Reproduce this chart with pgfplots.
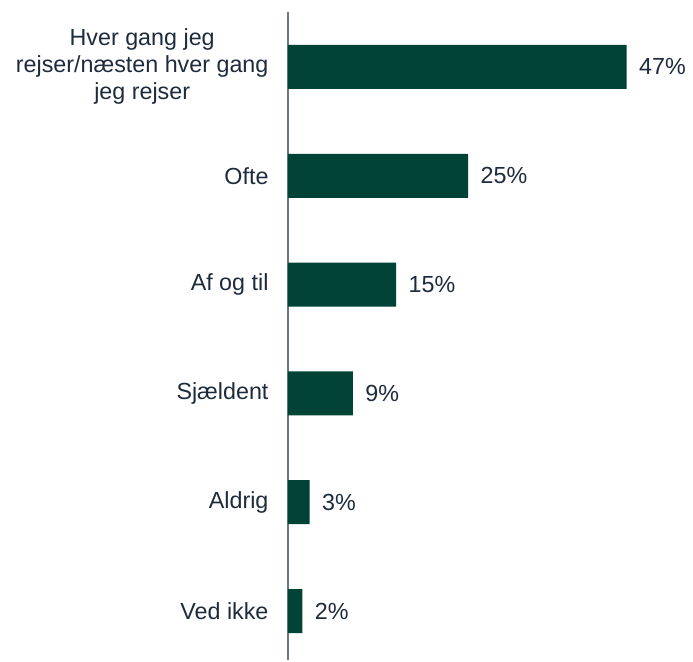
\documentclass[border=0pt]{standalone}
\usepackage{fontspec}
\setmainfont{Liberation Sans}
\usepackage{pgfplots}
\pgfplotsset{compat=1.18}
\definecolor{barcol}{HTML}{004236}
\definecolor{txtcol}{HTML}{1E2B3C}
\definecolor{axcol}{HTML}{6B7785}
\begin{document}
\begin{tikzpicture}
\begin{axis}[
    xbar,
    scale only axis,
    width=405pt, height=648pt,
    xmin=0, xmax=56.2,
    ymin=-0.505, ymax=5.45,
    y dir=reverse,
    bar width=44pt,
    axis x line=none,
    axis y line*=left,
    y axis line style={draw=axcol, line width=1.3pt, -},
    ytick={0,...,5},
    yticklabels={{Hver gang jeg\\rejser/næsten hver gang\\jeg rejser},Ofte,Af og til,Sjældent,Aldrig,Ved ikke},
    major tick length=0pt,
    yticklabel style={align=center, font=\fontsize{23.3}{27}\selectfont, text=txtcol, xshift=-16pt},
    /pgf/number format/assume math mode=true,
    nodes near coords={\pgfmathprintnumber{\pgfplotspointmeta}\%},
    nodes near coords style={font=\fontsize{23.3}{27}\selectfont, text=txtcol, anchor=west, xshift=9pt},
    clip=false,
]
\addplot[fill=barcol, draw=none] coordinates {(47,0) (25,1) (15,2) (9,3) (3,4) (2,5)};
\end{axis}
\pgfresetboundingbox
\path (current axis.south west) ++(-288pt,-1pt) rectangle ([yshift=12pt]current axis.north east);
\end{tikzpicture}
\end{document}
